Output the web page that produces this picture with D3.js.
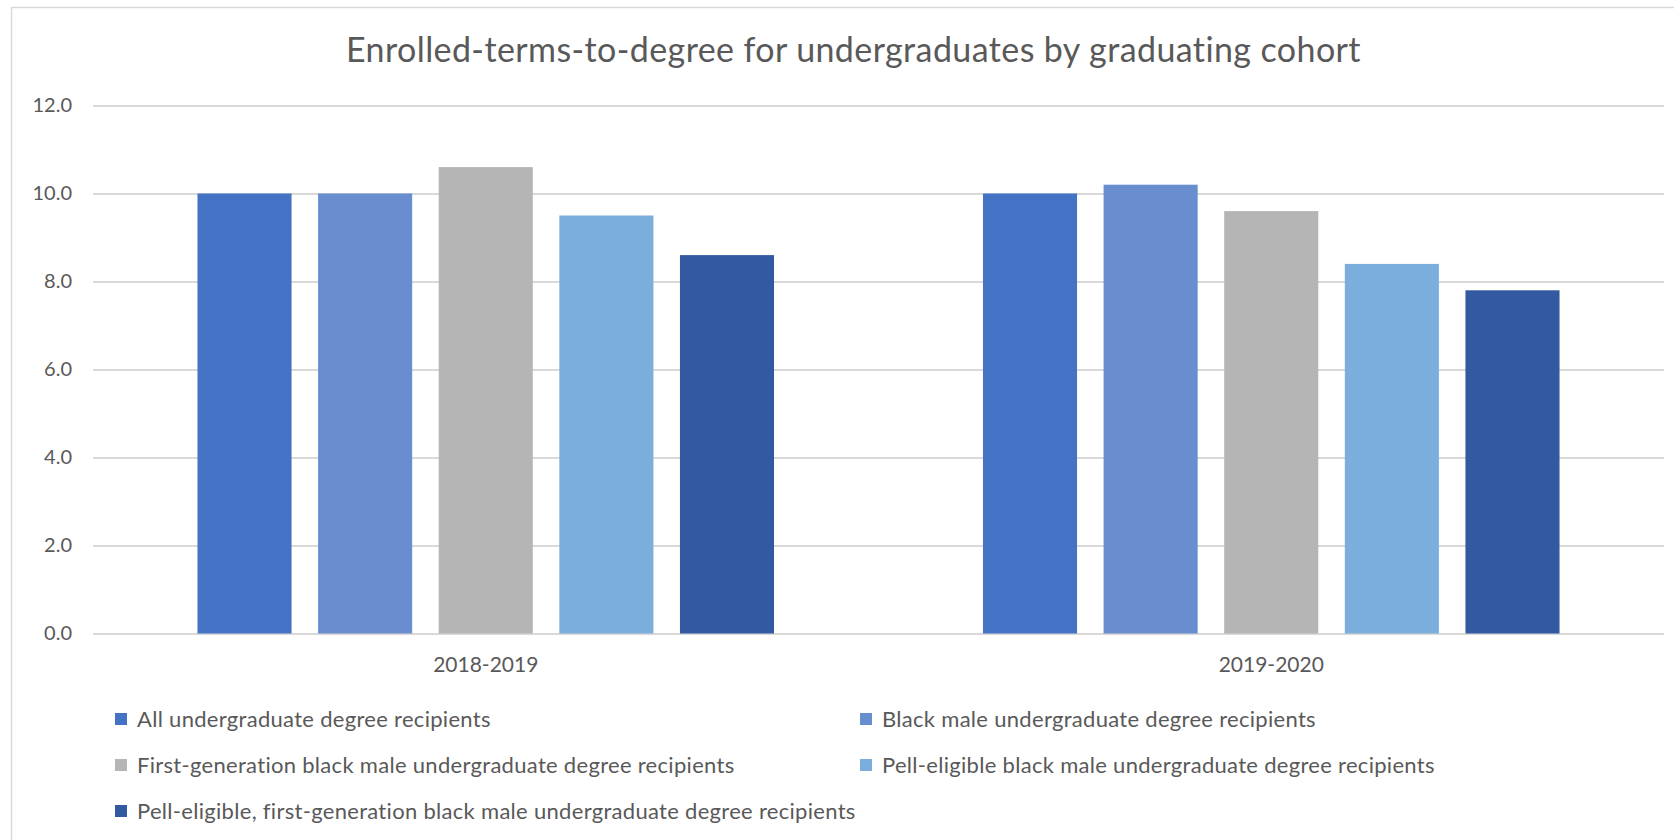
<!DOCTYPE html>
<html>
<head>
<meta charset="utf-8">
<script src="https://cdn.jsdelivr.net/npm/d3@7"></script>
<style>
  html, body { margin: 0; padding: 0; background: #ffffff; }
  svg { display: block; }
  text { font-family: Lato, "Open Sans", sans-serif; fill: #595959; }
</style>
</head>
<body>
<svg id="chart" width="1674" height="840"></svg>
<script>
// Graduating cohorts shown along the x axis
const categories = ["2018-2019", "2019-2020"];

// Student groups (one bar per group within each cohort)
const seriesNames = [
  "All undergraduate degree recipients",
  "Black male undergraduate degree recipients",
  "First-generation black male undergraduate degree recipients",
  "Pell-eligible black male undergraduate degree recipients",
  "Pell-eligible, first-generation black male undergraduate degree recipients"
];

// Average enrolled terms to degree, per group, for each cohort
const values2018_2019 = [10.0, 10.0, 10.6, 9.5, 8.6];
const values2019_2020 = [10.0, 10.2, 9.6, 8.4, 7.8];

// Value axis ticks
const yTicks = [0, 2, 4, 6, 8, 10, 12];

const titleText = "Enrolled-terms-to-degree for undergraduates by graduating cohort";

// Bar fill per group
const palette = ["#4472c4", "#698ed0", "#b5b5b5", "#7caedd", "#335aa0"];

const cohortValues = [values2018_2019, values2019_2020];

const svg = d3.select("#chart");
const W = 1674, H = 840;

// Chart frame
svg.append("rect")
  .attr("x", 11.5).attr("y", 7.5)
  .attr("width", W + 40).attr("height", H + 40)
  .attr("fill", "#ffffff")
  .attr("stroke", "#d9d9d9")
  .attr("stroke-width", 1.5);

const plot = { left: 93, right: 1664, top: 105.5, bottom: 633.5 };

const x0 = d3.scaleBand()
  .domain(categories)
  .range([plot.left, plot.right])
  .paddingInner(0.266)
  .paddingOuter(0.133);

const x1 = d3.scaleBand()
  .domain(d3.range(seriesNames.length))
  .range([0, x0.bandwidth()])
  .paddingInner(0.22);

const y = d3.scaleLinear()
  .domain([0, 12])
  .range([plot.bottom, plot.top]);

const color = d3.scaleOrdinal().domain(d3.range(seriesNames.length)).range(palette);

// Title
svg.append("text")
  .attr("x", 853.5)
  .attr("y", 62)
  .attr("text-anchor", "middle")
  .style("font-size", "34px")
  .style("letter-spacing", "0.4px")
  .text(titleText);

// Value axis with horizontal gridlines
const yAxis = svg.append("g")
  .attr("transform", `translate(${plot.left},0)`)
  .call(d3.axisLeft(y)
    .tickValues(yTicks)
    .tickFormat(d3.format(".1f"))
    .tickSize(-(plot.right - plot.left))
    .tickPadding(21));
yAxis.select(".domain").remove();
yAxis.selectAll(".tick line")
  .attr("stroke", "#d9d9d9")
  .attr("stroke-width", 2);
yAxis.selectAll(".tick text")
  .attr("fill", "#595959")
  .style("font-size", "20px")
  .style("font-family", "Lato, 'Open Sans', sans-serif");

// Bars
const groups = svg.append("g")
  .selectAll("g")
  .data(categories)
  .join("g")
  .attr("transform", d => `translate(${x0(d)},0)`);

groups.selectAll("rect")
  .data((d, ci) => cohortValues[ci].map((v, si) => ({ si, v })))
  .join("rect")
  .attr("x", d => x1(d.si))
  .attr("width", x1.bandwidth())
  .attr("y", d => y(d.v))
  .attr("height", d => y(0) - y(d.v))
  .attr("fill", d => color(d.si));

// Category axis labels
const xAxis = svg.append("g")
  .attr("transform", `translate(0,${plot.bottom})`)
  .call(d3.axisBottom(x0).tickSize(0).tickPadding(24));
xAxis.select(".domain").remove();
xAxis.selectAll(".tick text")
  .attr("fill", "#595959")
  .style("font-size", "21px")
  .style("font-family", "Lato, 'Open Sans', sans-serif");

// Legend: two columns, rows filled left to right
const legendCols = [115, 860];
const legendRows = [719, 765, 811];
const legend = svg.append("g")
  .selectAll("g")
  .data(seriesNames)
  .join("g")
  .attr("transform", (d, i) => `translate(${legendCols[i % 2]},${legendRows[Math.floor(i / 2)]})`);

legend.append("rect")
  .attr("x", 0).attr("y", -6)
  .attr("width", 12).attr("height", 12)
  .attr("fill", (d, i) => color(i));

legend.append("text")
  .attr("x", 22)
  .attr("y", 0)
  .attr("dy", "0.35em")
  .style("font-size", "22px")
  .style("letter-spacing", "0.3px")
  .text(d => d);
</script>
</body>
</html>
